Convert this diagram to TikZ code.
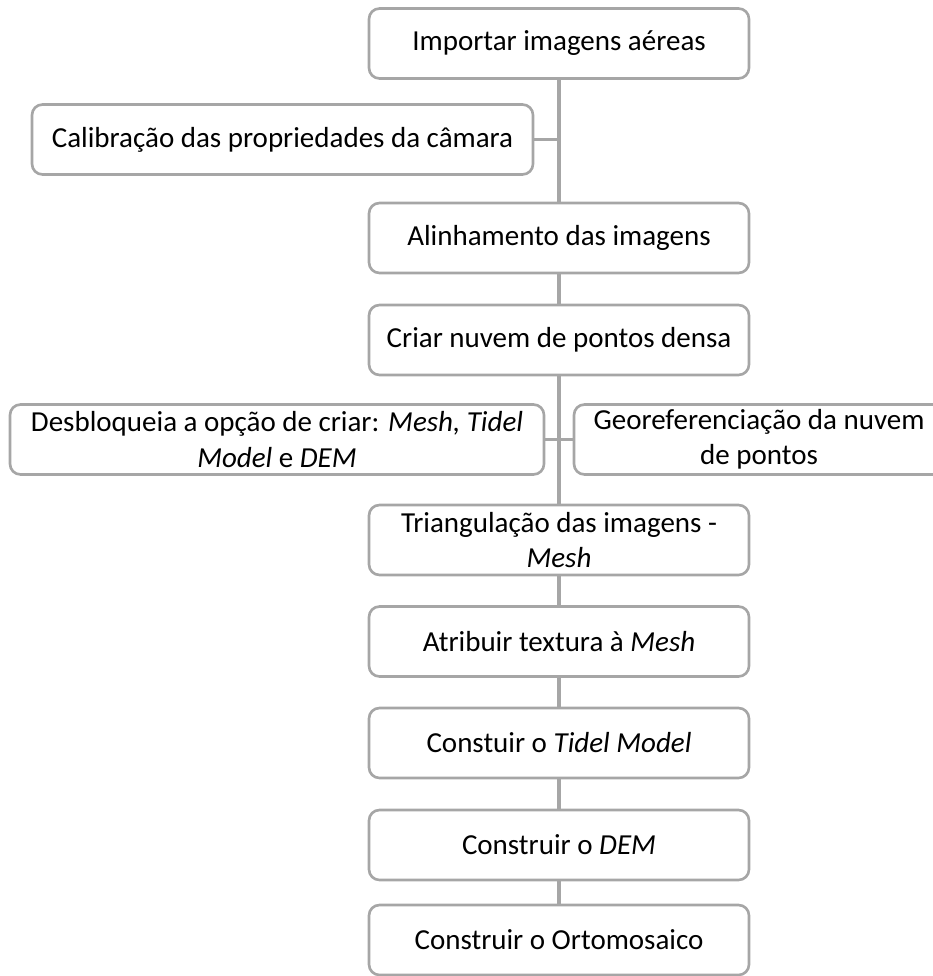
\documentclass[tikz,border=0pt]{standalone}
\usepackage{fontspec}
\setmainfont{Carlito}
\definecolor{linegray}{HTML}{A6A6A6}
\begin{document}
\begin{tikzpicture}[line width=1.8pt,
    main/.style = {draw=linegray, line width=1.5pt, rounded corners=6pt, fill=white, align=center,
      minimum height=1.40cm, inner ysep=0pt, font=\fontsize{16.5}{20}\selectfont},
    mid/.style = {main, minimum width=7.6cm}]
    \clip (0,0) rectangle (18.66,-19.52);
    \node[mid] (1) at (11.18,-0.87) {Importar imagens aéreas};
    \node[main, minimum width=10.02cm] (2) at (5.65,-2.79) {Calibração das propriedades da câmara};
    \node[mid] (3) at (11.18,-4.76) {Alinhamento das imagens};
    \node[mid] (4) at (11.18,-6.80) {Criar nuvem de pontos densa};
    \node[main, minimum width=10.68cm] (5) at (5.54,-8.79) {Desbloqueia a opção de criar: \textit{Mesh, Tidel}\\ \textit{Model} e \textit{DEM}};
    \node[main, minimum width=7.4cm] (6) at (15.18,-8.79) {Georeferenciação da nuvem\\ de pontos};
    \node[mid] (7) at (11.18,-10.80) {Triangulação das imagens -\\ \textit{Mesh}};
    \node[mid] (8) at (11.18,-12.83) {Atribuir textura à \textit{Mesh}};
    \node[mid] (9) at (11.18,-14.86) {Constuir o \textit{Tidel Model}};
    \node[mid] (10) at (11.18,-16.90) {Construir o \textit{DEM}};
    \node[mid] (11) at (11.18,-18.80) {Construir o Ortomosaico};
    \draw[linegray] (1) -- (3);
    \draw[linegray] (2.east) -- (2.east -| 1.south);
    \draw[linegray] (3) -- (4);
    \draw[linegray] (4) -- (7);
    \draw[linegray] (5.east) -- (5.east -| 4.south);
    \draw[linegray] (6.west) -- (6.west -| 4.south);
    \draw[linegray] (7) -- (8);
    \draw[linegray] (8) -- (9);
    \draw[linegray] (9) -- (10);
    \draw[linegray] (10) -- (11);
    \end{tikzpicture}
\end{document}
